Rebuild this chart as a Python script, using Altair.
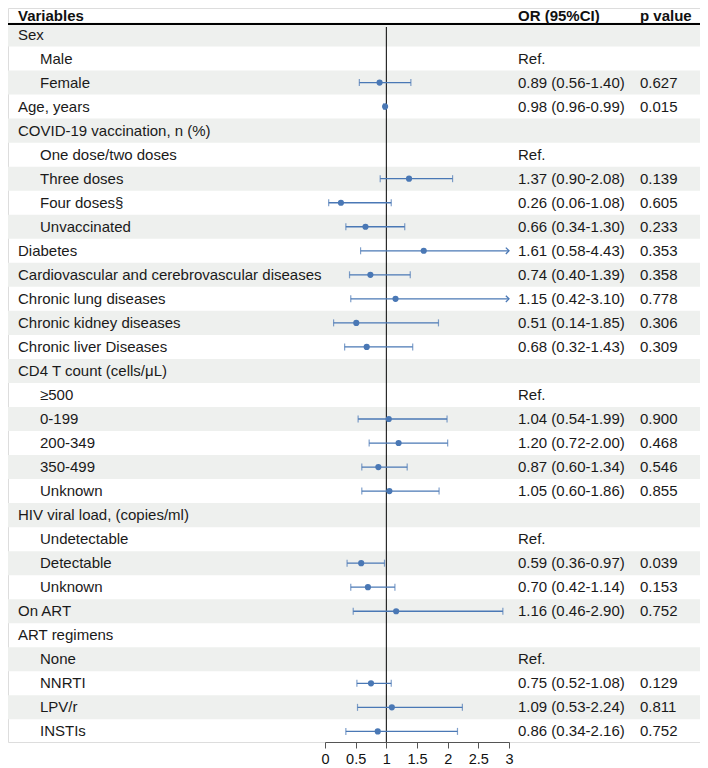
import altair as alt
import pandas as pd

labels = ["Sex", "Male", "Female", "Age, years", "COVID-19 vaccination, n (%)",
          "One dose/two doses", "Three doses", "Four doses§", "Unvaccinated",
          "Diabetes", "Cardiovascular and cerebrovascular diseases",
          "Chronic lung diseases", "Chronic kidney diseases", "Chronic liver Diseases",
          "CD4 T count (cells/μL)", "≥500", "0-199", "200-349", "350-499", "Unknown",
          "HIV viral load, (copies/ml)", "Undetectable", "Detectable", "Unknown",
          "On ART", "ART regimens", "None", "NNRTI", "LPV/r", "INSTIs"]
indent = [0, 1, 1, 0, 0, 1, 1, 1, 1, 0, 0, 0, 0, 0, 0, 1, 1, 1, 1, 1, 0, 1, 1, 1, 0, 0, 1, 1, 1, 1]
is_ref = [0, 1, 0, 0, 0, 1, 0, 0, 0, 0, 0, 0, 0, 0, 0, 1, 0, 0, 0, 0, 0, 1, 0, 0, 0, 0, 1, 0, 0, 0]
or_est = [None, None, 0.89, 0.98, None, None, 1.37, 0.26, 0.66, 1.61, 0.74, 1.15, 0.51, 0.68,
          None, None, 1.04, 1.20, 0.87, 1.05, None, None, 0.59, 0.70, 1.16, None, None, 0.75, 1.09, 0.86]
or_lo = [None, None, 0.56, 0.96, None, None, 0.90, 0.06, 0.34, 0.58, 0.40, 0.42, 0.14, 0.32,
         None, None, 0.54, 0.72, 0.60, 0.60, None, None, 0.36, 0.42, 0.46, None, None, 0.52, 0.53, 0.34]
or_hi = [None, None, 1.40, 0.99, None, None, 2.08, 1.08, 1.30, 4.43, 1.39, 3.10, 1.85, 1.43,
         None, None, 1.99, 2.00, 1.34, 1.86, None, None, 0.97, 1.14, 2.90, None, None, 1.08, 2.24, 2.16]
p_vals = ["", "", "0.627", "0.015", "", "", "0.139", "0.605", "0.233", "0.353", "0.358", "0.778",
          "0.306", "0.309", "", "", "0.900", "0.468", "0.546", "0.855", "", "", "0.039", "0.153",
          "0.752", "", "", "0.129", "0.811", "0.752"]
x_ticks = [0, 0.5, 1, 1.5, 2, 2.5, 3]
x_max = 3

rows = []
for i, lab in enumerate(labels):
    est, lo, hi = or_est[i], or_lo[i], or_hi[i]
    if is_ref[i]:
        or_txt = "Ref."
    elif est is not None:
        or_txt = f"{est:.2f} ({lo:.2f}-{hi:.2f})"
    else:
        or_txt = ""
    rows.append({
        "row": i, "label": lab, "indent": indent[i], "shaded": 1 if i % 2 == 0 else 0,
        "est": est, "lo": lo, "hi": hi,
        "hi_c": None if hi is None else min(hi, x_max),
        "clipped": 0 if hi is None else (1 if hi > x_max else 0),
        "has_est": 0 if est is None else 1,
        "or_txt": or_txt, "p_txt": p_vals[i],
    })
df = pd.DataFrame(rows)

W = 692
H = 734
FONT = "Liberation Sans"
BLUE = "#4a78b5"
SHADE = "#eef0ee"
TXT = "#1a1a1a"

xscale = alt.Scale(domain=[0, x_max], range=[317, 501], nice=False, zero=False)
yscale = alt.Scale(domain=[-0.5, 29.5], range=[14.5, 735.4], nice=False, zero=False)
xaxis = alt.Axis(values=x_ticks, format="~g", title=None, grid=False, tickSize=6,
                 labelFontSize=14.5, labelFont=FONT, labelColor="#111", domainColor="#555",
                 tickColor="#555", labelPadding=4, labelFlush=False)


def X(field):
    return alt.X(field, type="quantitative", scale=xscale, axis=xaxis)


def Y(field):
    return alt.Y(field, type="quantitative", scale=yscale, axis=None)


base = alt.Chart(df)
one = alt.Chart(pd.DataFrame({"v": [1]}))

bands = base.transform_filter("datum.shaded == 1").transform_calculate(
    y0="datum.row - 0.5", y1="datum.row + 0.5"
).mark_rect(color=SHADE).encode(
    x=alt.value(0), x2=alt.value(W), y=Y("y0"), y2="y1:Q"
)

head_line = one.mark_rule(color="black", strokeWidth=2).encode(
    x=alt.value(0), x2=alt.value(W), y=alt.value(16)
)

ref_line = one.mark_rule(color="black", strokeWidth=1).encode(
    x=X("v"), y=alt.value(19), y2=alt.value(H)
)

est_df = base.transform_filter("datum.has_est == 1")

ci = est_df.mark_rule(color=BLUE, strokeWidth=1.3).encode(
    x=X("lo"), x2="hi_c:Q", y=Y("row")
)
cap_lo = est_df.mark_tick(color=BLUE, orient="vertical", size=7, thickness=1.2).encode(
    x=X("lo"), y=Y("row")
)
cap_hi = est_df.transform_filter("datum.clipped == 0").mark_tick(
    color=BLUE, orient="vertical", size=7, thickness=1.2
).encode(x=X("hi"), y=Y("row"))
arrows = est_df.transform_filter("datum.clipped == 1").mark_point(
    shape="M -1 -1 L 0 0 L -1 1", filled=False, color=BLUE, strokeWidth=1.3, size=40, opacity=1
).encode(x=X("hi_c"), y=Y("row"))
pts = est_df.mark_circle(color=BLUE, size=38, opacity=1).encode(x=X("est"), y=Y("row"))

txt_kw = dict(font=FONT, fontSize=15, color=TXT, align="left", baseline="middle")
lab0 = base.transform_filter("datum.indent == 0").mark_text(**txt_kw).encode(
    x=alt.value(10), y=Y("row"), text="label:N")
lab1 = base.transform_filter("datum.indent == 1").mark_text(**txt_kw).encode(
    x=alt.value(32), y=Y("row"), text="label:N")
or_col = base.mark_text(**txt_kw).encode(x=alt.value(510), y=Y("row"), text="or_txt:N")
p_col = base.mark_text(**txt_kw).encode(x=alt.value(632), y=Y("row"), text="p_txt:N")

hdr_kw = dict(font=FONT, fontSize=15, fontWeight="bold", color="#111", align="left",
              baseline="alphabetic")
h1 = one.mark_text(text="Variables", **hdr_kw).encode(x=alt.value(10), y=alt.value(13))
h2 = one.mark_text(text="OR (95%CI)", **hdr_kw).encode(x=alt.value(510), y=alt.value(13))
h3 = one.mark_text(text="p value", **hdr_kw).encode(x=alt.value(632), y=alt.value(13))

chart = alt.layer(
    bands, head_line, ref_line, ci, cap_lo, cap_hi, arrows, pts,
    lab0, lab1, or_col, p_col, h1, h2, h3
).properties(
    width=W, height=H,
    autosize=alt.AutoSizeParams(type="none"),
    padding={"left": 0, "top": 0, "right": 0, "bottom": 24},
).configure_view(stroke=None).configure(background="white")

chart.save("out.html", embed_options={"renderer": "svg", "actions": False})
